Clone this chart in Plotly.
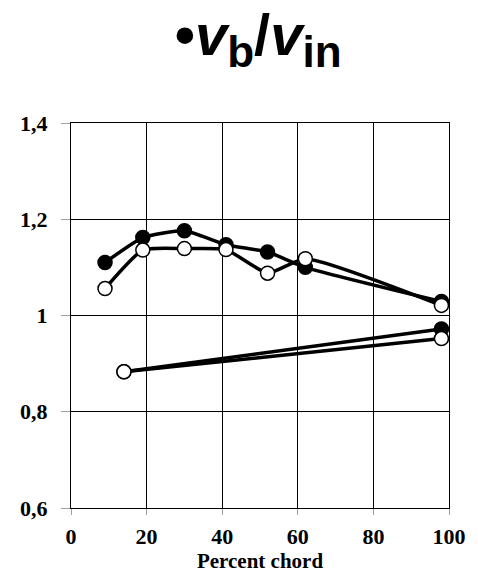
import plotly.graph_objects as go

# Chord positions (percent) of the pressure taps
x_upper = [9, 19, 30, 41, 52, 62, 98]
x_lower = [14, 98]

# Velocity ratio v_b / v_in, filled-symbol case
filled_upper = [1.11, 1.162, 1.176, 1.147, 1.132, 1.10, 1.029]
filled_lower = [0.883, 0.972]

# Velocity ratio v_b / v_in, open-symbol case
open_upper = [1.056, 1.136, 1.139, 1.137, 1.088, 1.118, 1.021]
open_lower = [0.883, 0.952]

y_ticks = [0.6, 0.8, 1.0, 1.2, 1.4]
y_ticktext = ["0,6", "0,8", "1", "1,2", "1,4"]
x_ticks = [0, 20, 40, 60, 80, 100]

fig = go.Figure()

def add_series(x, y, fill):
    fig.add_trace(go.Scatter(
        x=x, y=y, mode="lines+markers",
        line=dict(color="black", width=3.5, shape="spline", smoothing=0.5),
        marker=dict(size=14, color=fill, line=dict(color="black", width=1.5)),
        showlegend=False, hoverinfo="x+y",
    ))

add_series(x_upper, filled_upper, "black")
add_series(x_lower, filled_lower, "black")
add_series(x_upper, open_upper, "white")
add_series(x_lower, open_lower, "white")

tick_font = dict(family="Liberation Serif", size=22, color="black", weight="bold")
sub = '<sub><span style="font-size:44px">{}</span></sub>'

fig.update_layout(
    width=478, height=583,
    margin=dict(l=71, r=25, t=123, b=75),
    paper_bgcolor="white", plot_bgcolor="white",
    title=dict(
        text="•<i>v</i>" + sub.format("b") + "/<i>v</i>" + sub.format("in"),
        font=dict(family="Liberation Sans", size=58, color="black", weight="bold"),
        x=0.54, xanchor="center", y=0.94, yanchor="middle",
    ),
    xaxis=dict(
        range=[0, 100], tickvals=x_ticks, showgrid=True, gridcolor="black", gridwidth=1,
        showline=True, linecolor="black", linewidth=1, mirror=True,
        ticks="outside", ticklen=6, tickcolor="#a0a0a0", ticklabelstandoff=3,
        tickfont=tick_font, zeroline=False,
        title=dict(text="Percent chord", font=dict(family="Liberation Serif", size=21,
                                                 color="black", weight="bold"), standoff=4),
    ),
    yaxis=dict(
        range=[0.6, 1.4], tickvals=y_ticks, ticktext=y_ticktext, showgrid=True,
        gridcolor="black", gridwidth=1,
        showline=True, linecolor="black", linewidth=1, mirror=True,
        ticks="outside", ticklen=9, tickcolor="#a0a0a0", ticklabelstandoff=9,
        tickfont=tick_font, zeroline=False,
    ),
)

fig.write_html("out.html")
